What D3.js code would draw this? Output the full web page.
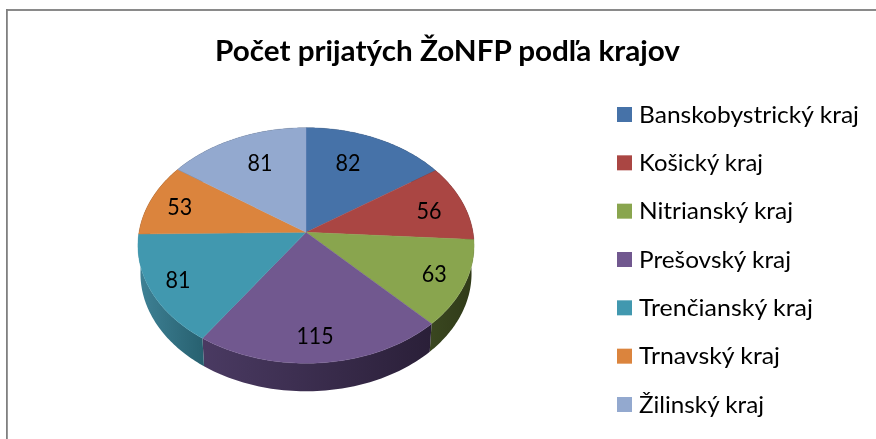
<!DOCTYPE html>
<html><head><meta charset="utf-8">
<script src="https://cdn.jsdelivr.net/npm/d3@7"></script>
<style>html,body{margin:0;padding:0;background:#fff;overflow:hidden}svg{display:block;filter:blur(0.35px)}text{font-family:Lato,"Open Sans",sans-serif;fill:#000}</style>
</head><body><script>
const chartTitle = "Počet prijatých ŽoNFP podľa krajov";
const categories = ["Banskobystrický kraj","Košický kraj","Nitrianský kraj","Prešovský kraj","Trenčianský kraj","Trnavský kraj","Žilinský kraj"];
const values = [82,56,63,115,81,53,81];
const colors = ["#4672A8","#AA4643","#89A54E","#71588F","#4198AF","#DB843D","#93A9CF"];
const wallLight = ["#333","#333","#3a4720","#4a3a62","#3f8296","#333","#333"];
const wallDark  = ["#222","#222","#303a18","#2a1f38","#27606f","#222","#222"];
const legendWidths = [220,124,154,152,174,141,125];
const labelWidths = {2:25,3:37};
const labelNudge = [[-9,-2],[12.6,0],[18.6,5.7],[-1.5,15],[-21,7],[-17,-2],[4.4,-2]];

const W=876,H=439, cx=306, cy=232.3, rx=167, ry=116.3, k=0.112, depth=28, shrink=0.985;
const svg=d3.select("body").append("svg").attr("width",W).attr("height",H);
const defs=svg.append("defs");

// Frame
svg.append("rect").attr("x",6).attr("y",9).attr("width",W).attr("height",2).attr("fill","#8a8a8a");
svg.append("rect").attr("x",6).attr("y",9).attr("width",1.8).attr("height",H).attr("fill","#808080");

// Title
svg.append("text").attr("x",447.5).attr("y",60.5).attr("text-anchor","middle")
  .attr("font-size",28).attr("font-weight",700)
  .attr("textLength",465).attr("lengthAdjust","spacingAndGlyphs").text(chartTitle);

// Perspective projection of the pie disc
function project(a,r){
  const x=Math.sin(a)*r, y=-Math.cos(a)*r, den=1-k*y;
  return [cx+rx*x/den, cy+ry*y/den];
}
function projectBottom(a,r){
  const p=project(a,r);
  return [cx+(p[0]-cx)*shrink, p[1]+depth];
}
const arcs=d3.pie().value(d=>d).sort(null)(values);
const line=d3.line();
const samples=(s,e)=>d3.range(0,61).map(i=>s+(e-s)*i/60);

// Walls
arcs.forEach((d,i)=>{
  const as=samples(d.startAngle,d.endAngle);
  const path=as.map(a=>project(a,1)).concat(as.slice().reverse().map(a=>projectBottom(a,1)));
  const xs=path.map(p=>p[0]);
  const g=defs.append("linearGradient").attr("id","w"+i).attr("gradientUnits","userSpaceOnUse")
    .attr("x1",d3.min(xs)).attr("x2",d3.max(xs)).attr("y1",0).attr("y2",0);
  g.append("stop").attr("offset",0).attr("stop-color",wallLight[i]);
  g.append("stop").attr("offset",1).attr("stop-color",wallDark[i]);
  svg.append("path").attr("d",line(path)+"Z").attr("fill",`url(#w${i})`);
});

// Top faces
arcs.forEach((d,i)=>{
  const pts=[project(0,0)].concat(samples(d.startAngle,d.endAngle).map(a=>project(a,1)));
  svg.append("path").attr("d",line(pts)+"Z").attr("fill",colors[i]).attr("stroke",colors[i]).attr("stroke-width",0.4);
});

// Data labels
arcs.forEach((d,i)=>{
  const p=project((d.startAngle+d.endAngle)/2,0.7);
  const s=String(d.value);
  svg.append("text").attr("x",p[0]+labelNudge[i][0]).attr("y",p[1]+labelNudge[i][1]+8.3)
    .attr("text-anchor","middle").attr("font-size",24)
    .attr("textLength",labelWidths[s.length]).attr("lengthAdjust","spacingAndGlyphs").text(s);
});

// Legend
const ly=d3.scalePoint().domain(categories).range([107,397]);
categories.forEach((c,i)=>{
  svg.append("rect").attr("x",617).attr("y",ly(c)).attr("width",15).attr("height",15).attr("fill",colors[i]);
  svg.append("text").attr("x",639).attr("y",ly(c)+15.5).attr("font-size",23.5)
    .attr("textLength",legendWidths[i]).attr("lengthAdjust","spacingAndGlyphs").text(c);
});
</script></body></html>
